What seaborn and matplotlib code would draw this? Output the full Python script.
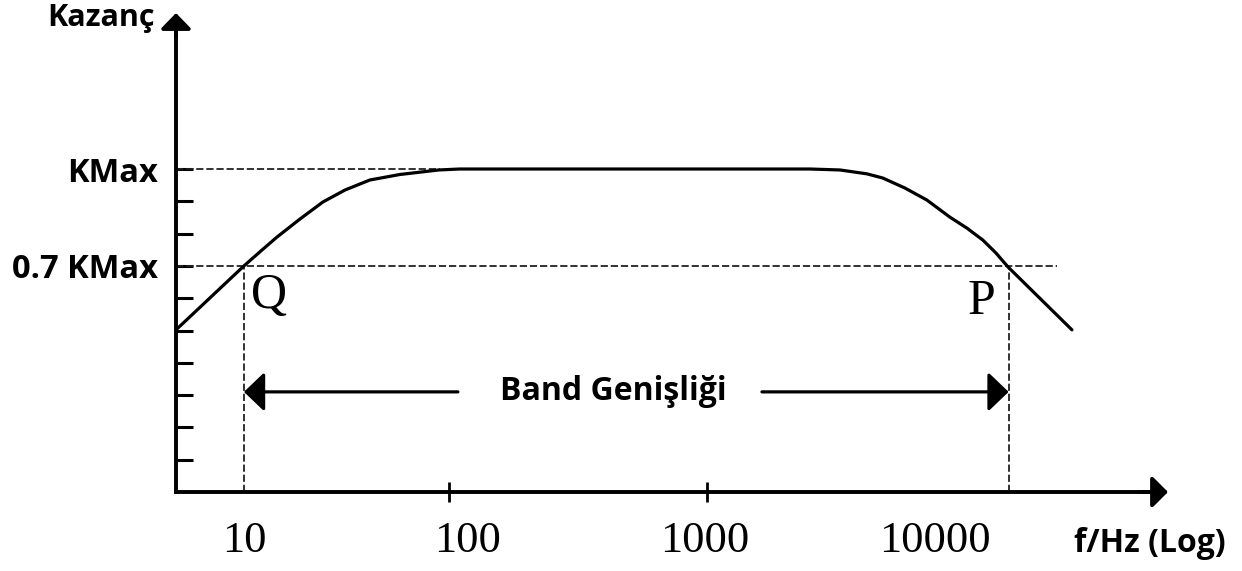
import matplotlib
matplotlib.use('Agg')
import matplotlib.pyplot as plt
import seaborn as sns
import pandas as pd

# ---- data (x in decade positions: 1 -> 10 Hz, 2 ~ 100 Hz ... ; gain in tenths of KMax) ----
freq_pos = [0.705, 1.00, 1.078, 1.143, 1.243, 1.343, 1.439, 1.547, 1.677, 1.846, 1.937,
            3.457, 3.588, 3.705, 3.774, 3.870, 3.965, 4.065, 4.139, 4.208, 4.265, 4.317, 4.595]
gain = [5.02, 7.00, 7.49, 7.89, 8.45, 8.98, 9.35, 9.66, 9.83, 9.97, 10.0,
        10.0, 9.97, 9.85, 9.72, 9.41, 9.04, 8.51, 8.17, 7.80, 7.40, 6.97, 5.02]

x_tick_marks = [1.89, 3.01, 4.0]
x_label_pos = [1.0, 1.97, 3.0, 4.0]
x_labels = ['10', '100', '1000', '10000']
y_ticks = [1, 2, 3, 4, 5, 6, 7, 8, 9, 10]
y_labels = ['', '', '', '', '', '', '0.7 KMax', '', '', 'KMax']

k_max = 10
k_cut = 7
q_pos = 1.0
p_pos = 4.32
kmax_line_end = 1.85
kcut_line_end = 4.53
band_y = 3.1
band_left_end = 1.929
band_right_start = 3.249
band_text_x = 2.602
q_text = (1.109, 6.07)
p_text = (4.20, 5.88)
x_range = (0.705, 5.012)
y_range = (0, 14.83)

sns.set_theme(style='white')
plt.rcParams['font.family'] = ['Open Sans', 'DejaVu Sans']

fig = plt.figure(figsize=(12.42, 5.71), dpi=100)
ax = fig.add_axes([176 / 1242, 79 / 571, 992 / 1242, 479 / 571])

df = pd.DataFrame({'f': freq_pos, 'k': gain})
sns.lineplot(data=df, x='f', y='k', color='black', linewidth=2.3, ax=ax, sort=False, zorder=4)

ax.set_xlim(*x_range)
ax.set_ylim(*y_range)
ax.set_xlabel('')
ax.set_ylabel('')
ax.grid(False)

for s in ['top', 'right']:
    ax.spines[s].set_visible(False)
for s in ['left', 'bottom']:
    ax.spines[s].set_color('black')
    ax.spines[s].set_linewidth(2.8)
ax.spines['left'].set_bounds(0, y_range[1] - 0.4)
ax.spines['bottom'].set_bounds(x_range[0], x_range[1] - 0.05)

dash = (0, (4, 1.6))
ax.hlines(k_max, x_range[0], kmax_line_end, colors='#222222', linestyles=dash, lw=1.3)
ax.hlines(k_cut, x_range[0], kcut_line_end, colors='#222222', linestyles=dash, lw=1.3)
ax.vlines([q_pos, p_pos], 0, k_cut, colors='#222222', linestyles=dash, lw=1.3)

# axis arrows
ax.annotate('', xy=(0, 1), xycoords='axes fraction', xytext=(0, 0.95), textcoords='axes fraction',
            arrowprops=dict(arrowstyle='-|>,head_length=0.95,head_width=0.92', mutation_scale=10,
                            lw=2.8, color='black', shrinkA=0, shrinkB=0), annotation_clip=False)
ax.annotate('', xy=(1, 0), xycoords='axes fraction', xytext=(0.97, 0), textcoords='axes fraction',
            arrowprops=dict(arrowstyle='-|>,head_length=0.95,head_width=0.95', mutation_scale=10,
                            lw=2.8, color='black', shrinkA=0, shrinkB=0), annotation_clip=False)

# band width arrows
ax.annotate('', xy=(q_pos, band_y), xytext=(band_left_end, band_y),
            arrowprops=dict(arrowstyle='-|>,head_length=1.25,head_width=1.2', mutation_scale=10,
                            lw=2.3, color='black', shrinkA=0, shrinkB=0))
ax.annotate('', xy=(p_pos, band_y), xytext=(band_right_start, band_y),
            arrowprops=dict(arrowstyle='-|>,head_length=1.25,head_width=1.2', mutation_scale=10,
                            lw=2.3, color='black', shrinkA=0, shrinkB=0))
ax.text(band_text_x, band_y, 'Band Genişliği', ha='center', va='center',
        fontsize=23, fontweight='bold', color='black')

ax.text(q_text[0], q_text[1], 'Q', ha='center', va='center', fontsize=36,
        family=['Liberation Serif', 'DejaVu Serif'], color='black')
ax.text(p_text[0], p_text[1], 'P', ha='center', va='center', fontsize=36,
        family=['Liberation Serif', 'DejaVu Serif'], color='black')

# ticks
ax.set_xticks(x_label_pos, x_labels)
ax.set_xticks(x_tick_marks, minor=True)
ax.tick_params(axis='x', which='major', bottom=True, length=0, pad=21, labelsize=32,
               labelcolor='black')
ax.tick_params(axis='x', which='minor', bottom=True, direction='inout', length=14.4,
               width=2.0, color='black')
for lbl in ax.get_xticklabels():
    lbl.set_fontfamily(['Liberation Serif', 'DejaVu Serif'])

ax.set_yticks(y_ticks, y_labels)
ax.tick_params(axis='y', which='major', left=True, direction='in', length=12.2, width=2.2,
               color='black', pad=13, labelsize=23.5, labelcolor='black')
for lbl in ax.get_yticklabels():
    lbl.set_fontweight('bold')

fig.text(101 / 1242, 1 - 18 / 571, 'Kazanç', ha='center', va='center', fontsize=22,
         fontweight='bold', color='black')
fig.text(1150 / 1242, 1 - 543 / 571, 'f/Hz (Log)', ha='center', va='center', fontsize=23,
         fontweight='bold', color='black')

fig.savefig('out.png', dpi=100, facecolor='white')
